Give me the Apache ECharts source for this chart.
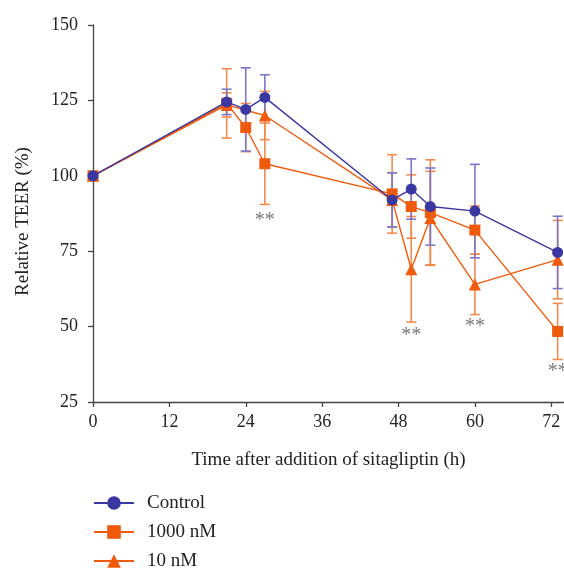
<!DOCTYPE html>
<html>
<head>
<meta charset="utf-8">
<script src="https://cdn.jsdelivr.net/npm/echarts@6/dist/echarts.min.js"></script>
<style>html,body{margin:0;padding:0;background:#fff}#c{width:564px;height:570px}</style>
</head>
<body>
<div id="c"></div>
<script>
var times = [0, 21, 24, 27, 47, 50, 53, 60, 73];
var controlVals = [100, 124.5, 122, 126, 92, 95.6, 89.8, 88.3, 74.6];
var controlErr  = [0, 4.2, 13.8, 7.5, 9, 10, 12.8, 15.5, 12];
var nM1000Vals  = [100, 124, 116, 104, 94, 89.8, 87.8, 82, 48.4];
var nM1000Err   = [0, 11.5, 8, 13.5, 13, 10.5, 17.5, 8, 9.3];
var nM10Vals    = [100, 123.5, null, 120, 92, 69, 86, 64, 72.2];
var nM10Err     = [0, 4, 0, 8, 9, 17.5, 15.5, 10, 13];
var xTicks = [0, 12, 24, 36, 48, 60, 72];
var sigTimes = [27, 50, 60, 73];
var sigVals  = [85, 47, 50, 35];
var legendNames = ['Control', '1000 nM', '10 nM'];

var FONT = '"Liberation Serif", "DejaVu Serif", serif';
var BLUE = '#3b37a0', BLUE_ERR = '#7a77c6';
var ORANGE = '#ef5a0c', ORANGE_ERR = '#f48a4c';

function pts(vals){ return times.map(function(t,i){ return vals[i]==null ? [t,'-'] : [t, vals[i]]; }); }
function errs(vals, e){
  var out = [];
  times.forEach(function(t,i){ if (vals[i]!=null && e[i]>0) out.push([t, vals[i]-e[i], vals[i]+e[i]]); });
  return out;
}
function errSeries(vals, e, color, z){
  return {
    type: 'custom', z: z, silent: true,
    data: errs(vals, e),
    encode: {x: 0, y: [1,2]},
    renderItem: function(params, api){
      var lo = api.coord([api.value(0), api.value(1)]);
      var hi = api.coord([api.value(0), api.value(2)]);
      var w = 5;
      var st = {stroke: color, lineWidth: 1.6};
      return {type: 'group', children: [
        {type:'line', shape:{x1:lo[0], y1:lo[1], x2:hi[0], y2:hi[1]}, style: st},
        {type:'line', shape:{x1:lo[0]-w, y1:lo[1], x2:lo[0]+w, y2:lo[1]}, style: st},
        {type:'line', shape:{x1:hi[0]-w, y1:hi[1], x2:hi[0]+w, y2:hi[1]}, style: st}
      ]};
    }
  };
}

var legends = legendNames.map(function(n, i){
  return {
    orient: 'vertical', left: 93, top: 493 + i * 29, padding: 0,
    itemWidth: 40, itemHeight: 17,
    data: [n],
    textStyle: {fontFamily: FONT, fontSize: 19, lineHeight: 20, color: '#222', padding: [0,0,0,8]}
  };
});

var chart = echarts.init(document.getElementById('c'), null, {renderer: 'canvas'});
chart.setOption({
  animation: false,
  backgroundColor: '#fff',
  textStyle: {fontFamily: FONT},
  grid: {left: 93, right: 0, top: 25, bottom: 168, containLabel: false},
  xAxis: {
    type: 'value', min: 0, max: 74,
    name: 'Time after addition of sitagliptin (h)',
    nameLocation: 'middle', nameGap: 49,
    nameTextStyle: {fontFamily: FONT, fontSize: 19, color: '#222'},
    axisLine: {lineStyle: {color: '#444', width: 1.3}},
    axisTick: {show: true, length: 5, customValues: xTicks, lineStyle: {color: '#444', width: 1.3}},
    axisLabel: {customValues: xTicks, margin: 11, fontFamily: FONT, fontSize: 18, color: '#222'},
    splitLine: {show: false}
  },
  yAxis: {
    type: 'value', min: 25, max: 150, interval: 25,
    name: 'Relative TEER (%)',
    nameLocation: 'middle', nameGap: 60, nameRotate: 90,
    nameTextStyle: {fontFamily: FONT, fontSize: 19, color: '#222', padding: [0, 16, 0, 0]},
    axisLine: {show: true, lineStyle: {color: '#444', width: 1.3}},
    axisTick: {show: true, length: 5, lineStyle: {color: '#444', width: 1.3}},
    axisLabel: {margin: 15, fontFamily: FONT, fontSize: 18, color: '#222'},
    splitLine: {show: false}
  },
  legend: legends,
  series: [
    errSeries(nM10Vals, nM10Err, ORANGE_ERR, 1),
    errSeries(nM1000Vals, nM1000Err, ORANGE_ERR, 1),
    errSeries(controlVals, controlErr, BLUE_ERR, 1),
    {
      name: '10 nM', type: 'line', z: 2, connectNulls: true,
      data: pts(nM10Vals), symbol: 'triangle', symbolSize: 12,
      itemStyle: {color: ORANGE}, lineStyle: {color: ORANGE, width: 1.4}
    },
    {
      name: '1000 nM', type: 'line', z: 3,
      data: pts(nM1000Vals), symbol: 'rect', symbolSize: 11,
      itemStyle: {color: ORANGE}, lineStyle: {color: ORANGE, width: 1.4}
    },
    {
      name: 'Control', type: 'line', z: 4,
      data: pts(controlVals), symbol: 'circle', symbolSize: 11,
      itemStyle: {color: BLUE}, lineStyle: {color: BLUE, width: 1.4}
    },
    {
      type: 'scatter', z: 5, silent: true, symbolSize: 0,
      data: sigTimes.map(function(t,i){ return [t, sigVals[i]]; }),
      label: {show: true, position: 'inside', formatter: '**', fontFamily: FONT, fontSize: 20, color: '#555'}
    }
  ]
});
</script>
</body>
</html>
